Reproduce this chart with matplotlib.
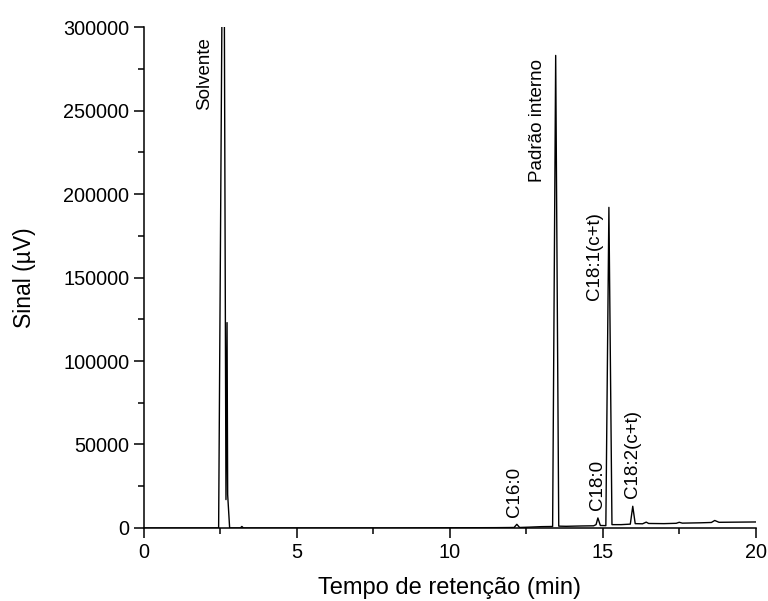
import numpy as np
import matplotlib.pyplot as plt
from matplotlib.ticker import MultipleLocator

plt.rcParams['font.family'] = ['Liberation Sans', 'DejaVu Sans']

# chromatogram trace (min, uV)
tempo = [0.0, 2.0, 2.44, 2.60, 2.68, 2.715, 2.735, 2.80, 3.15, 3.2, 3.25,
         8.0, 11.5, 12.1, 12.19, 12.28, 12.6, 13.0, 13.36, 13.46, 13.56,
         13.8, 14.3, 14.7, 14.78, 14.84, 14.92, 15.1, 15.2, 15.3, 15.6,
         15.9, 15.98, 16.06, 16.3, 16.42, 16.5, 17.0, 17.4, 17.5, 17.6,
         18.2, 18.55, 18.66, 18.8, 19.4, 20.0]
sinal = [0, 0, 0, 457000, 17000, 123000, 20000, 0, 0, 900, 0,
         0, 200, 300, 2200, 300, 500, 800, 900, 283000, 1100,
         1000, 1200, 1300, 2000, 6000, 1500, 1400, 192000, 2000, 2000,
         2300, 13000, 2600, 2500, 3500, 2700, 2600, 2800, 3400, 2900,
         3100, 3300, 4500, 3400, 3500, 3600]

# peak labels: (text, x, y of text start)
rotulos = ['Solvente', 'Padrão interno', 'C18:1(c+t)', 'C16:0', 'C18:0',
           'C18:2(c+t)']
rot_x = [1.99, 12.88, 14.74, 12.12, 14.84, 15.98]
rot_y = [250300, 207200, 136500, 6600, 10800, 18000]

fig = plt.figure(figsize=(7.68, 6.01), dpi=100)
ax = fig.add_axes([0.1875, 0.1215, 0.7965, 0.8335])

ax.plot(tempo, sinal, color='black', lw=1.0)

for txt, x, y in zip(rotulos, rot_x, rot_y):
    ax.text(x, y, txt, rotation=90, ha='center', va='bottom', fontsize=13.5)

ax.set_xlim(0, 20)
ax.set_ylim(0, 300000)
ax.xaxis.set_major_locator(MultipleLocator(5))
ax.xaxis.set_minor_locator(MultipleLocator(2.5))
ax.yaxis.set_major_locator(MultipleLocator(50000))
ax.yaxis.set_minor_locator(MultipleLocator(25000))

for s in ['top', 'right']:
    ax.spines[s].set_visible(False)
for s in ['left', 'bottom']:
    ax.spines[s].set_linewidth(1.1)

ax.tick_params(which='major', direction='out', length=7, width=1.1,
               labelsize=14.3)
ax.tick_params(which='minor', direction='out', length=4, width=1.1)

ax.set_xlabel('Tempo de retenção (min)', fontsize=17, labelpad=11)
ax.set_ylabel('Sinal (µV)', fontsize=16.5, labelpad=20)

fig.savefig('out.png', dpi=100)
